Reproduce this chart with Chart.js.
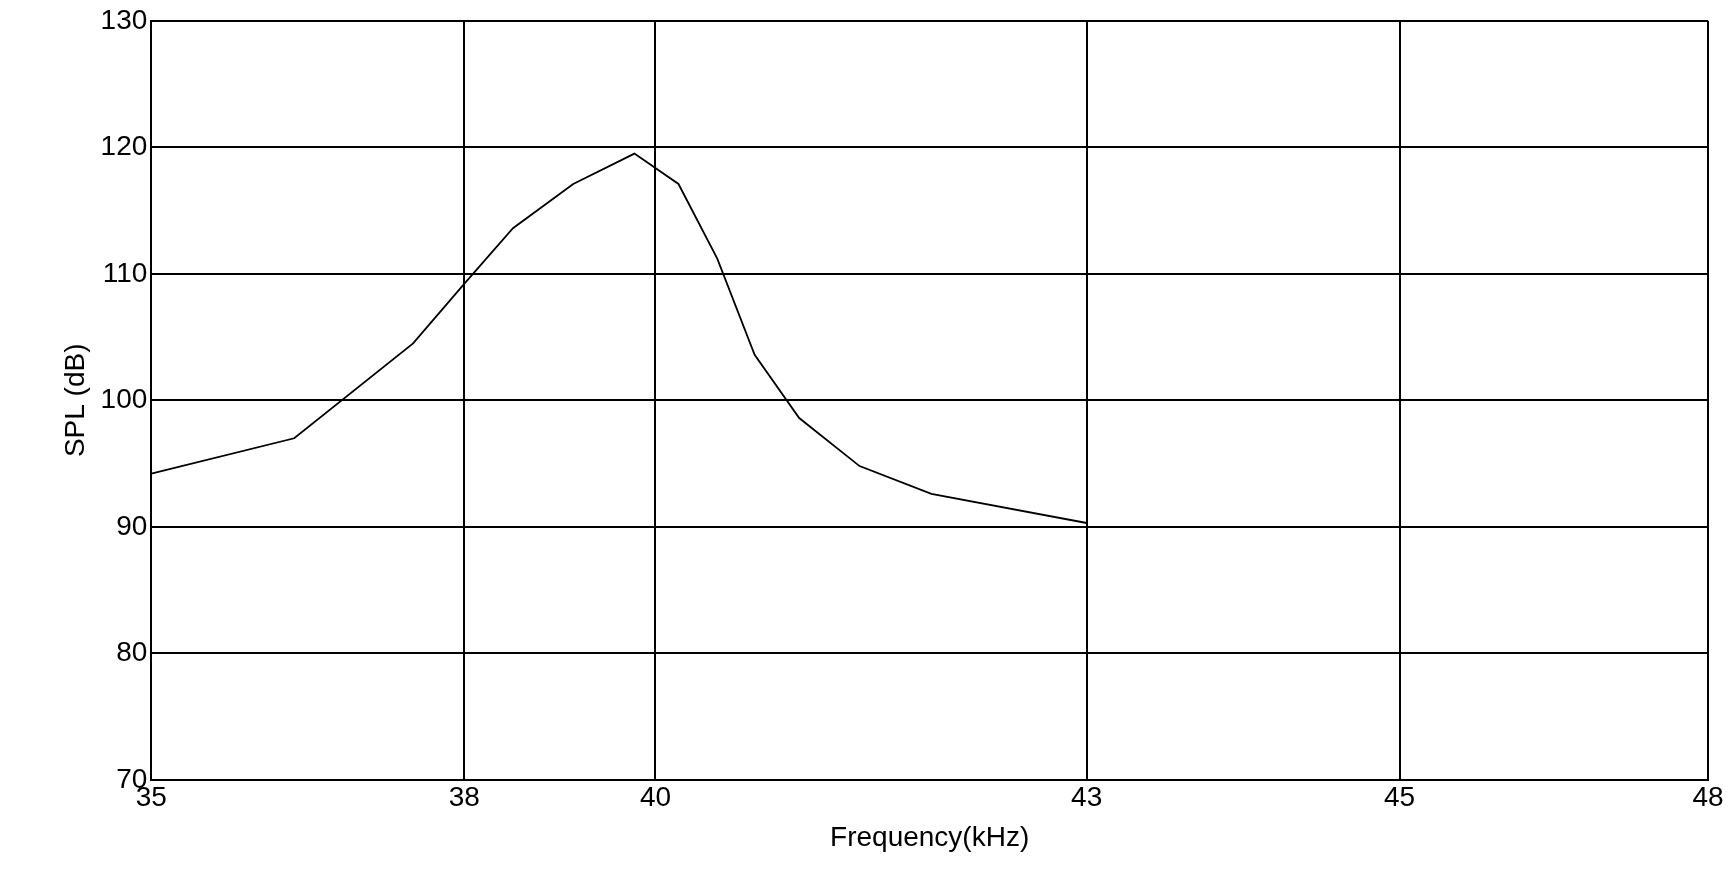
<!DOCTYPE html>
<html><head><meta charset="utf-8">
<script src="https://cdn.jsdelivr.net/npm/chart.js@4"></script>
<style>html,body{margin:0;background:#fff}#w{width:1736px;height:887px}</style></head>
<body><div id="w"><canvas id="c"></canvas></div>
<script>
const tickLabels = [35, 38, 40, 43, 45, 48];
const freq = [35, 36.37, 37.51, 38, 38.51, 39.14, 39.78, 40.16, 40.43, 40.69, 41.0, 41.42, 41.92, 43];
const spl  = [94.2, 97.0, 104.5, 109.2, 113.6, 117.1, 119.5, 117.1, 111.2, 103.6, 98.6, 94.8, 92.6, 90.3];
const yTicks = [70, 80, 90, 100, 110, 120, 130];
// relative on-screen width of each tick interval (axis is not uniform in the original)
const span = [283, 173, 390, 283, 279];
const cum = [0]; span.forEach(s => cum.push(cum[cum.length-1] + s));
function warp(f){
  for (let i=0;i<tickLabels.length-1;i++){
    const a=tickLabels[i], b=tickLabels[i+1];
    if (f<=b) return cum[i] + (f-a)/(b-a)*span[i];
  }
  return cum[cum.length-1];
}
const pts = freq.map((f,i)=>({x:warp(f), y:spl[i]}));
const font = {family:'"Liberation Sans", Arial, sans-serif', size:28};
new Chart(document.getElementById('c'), {
  type:'line',
  data:{datasets:[{data:pts, borderColor:'#000', borderWidth:1.8, pointRadius:0, tension:0, fill:false}]},
  options:{
    responsive:true, maintainAspectRatio:false, animation:false,
    layout:{padding:{left:55,right:28,top:20,bottom:28}},
    plugins:{legend:{display:false}, tooltip:{enabled:false}},
    scales:{
      x:{type:'linear', min:0, max:cum[cum.length-1],
        afterBuildTicks:s=>{s.ticks=cum.map(v=>({value:v}));},
        ticks:{color:'#000', font, padding:2, maxRotation:0, callback:(v,i)=>tickLabels[i]},
        grid:{color:'#000', lineWidth:2, drawTicks:false},
        border:{color:'#000', width:2},
        title:{display:true, text:'Frequency(kHz)', color:'#000', font, padding:{top:4}}},
      y:{min:70, max:130,
        afterBuildTicks:s=>{s.ticks=yTicks.map(v=>({value:v}));},
        ticks:{color:'#000', font, padding:4},
        grid:{color:'#000', lineWidth:2, drawTicks:false},
        border:{color:'#000', width:2},
        title:{display:true, text:'SPL (dB)', color:'#000', font, padding:{bottom:4}}}
    }
  }
});
</script></body></html>
